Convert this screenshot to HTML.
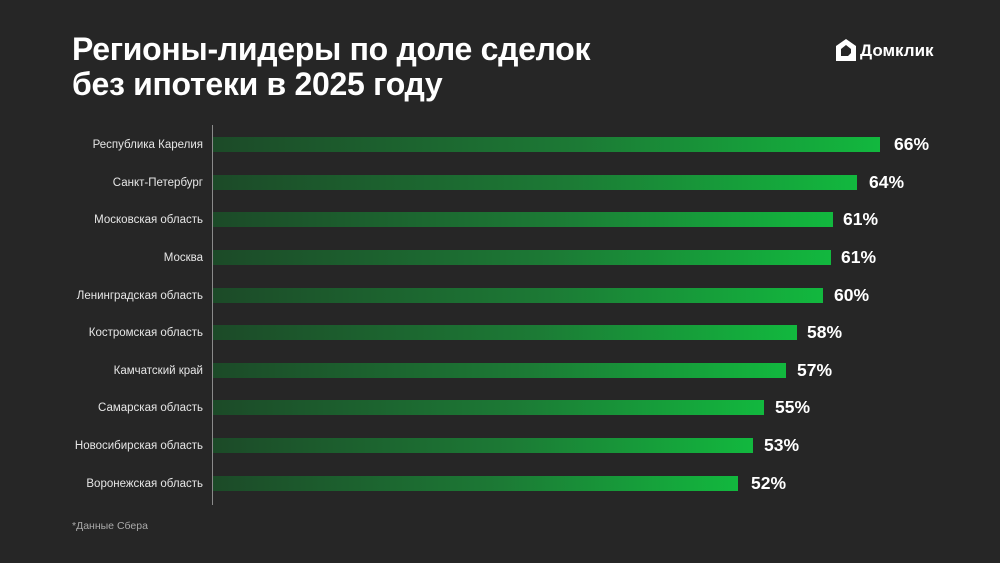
<!DOCTYPE html>
<html><head><meta charset="utf-8"><style>
html,body{margin:0;padding:0}
body{width:1000px;height:563px;background:#262626;position:relative;overflow:hidden;font-family:"Liberation Sans",sans-serif;color:#fff}
.t{position:absolute;left:72px;top:32px;font-size:32px;font-weight:bold;line-height:35px;letter-spacing:-0.3px}
.logo{position:absolute;left:835px;top:38px;font-size:17px;font-weight:bold}
.axis{position:absolute;left:212px;top:125px;width:1px;height:380px;background:#8a8a8a}
.lab{position:absolute;right:797px;font-size:11.5px;color:#e6e6e6;white-space:nowrap;margin-top:2px}
.bar{position:absolute;left:213px;height:15px;background:linear-gradient(90deg,#1c4a28 0%,#1c7a35 55%,#12b83e 100%)}
.v{position:absolute;font-size:17.5px;font-weight:bold;margin-top:-1px}
.foot{position:absolute;left:72px;top:520px;font-size:10.5px;color:#aaa}
</style></head><body>
<div class="t">Регионы-лидеры по доле сделок<br>без ипотеки в 2025 году</div>
<div class="logo"><svg width="22" height="24" viewBox="0 0 22 24" style="vertical-align:-6px;margin-right:3px"><path d="M11 1 L21 8 V23 H1 V8 Z M6 11 V18 H13 L16 15 V11 L11 7 Z" fill="#fff" fill-rule="evenodd"/></svg>Домклик</div>
<div class="axis"></div>
<div class="lab" style="top:137px">Республика Карелия</div><div class="bar" style="top:137px;width:667px"></div><div class="v" style="left:894px;top:135px">66%</div>
<div class="lab" style="top:175px">Санкт-Петербург</div><div class="bar" style="top:175px;width:644px"></div><div class="v" style="left:869px;top:173px">64%</div>
<div class="lab" style="top:212px">Московская область</div><div class="bar" style="top:212px;width:620px"></div><div class="v" style="left:843px;top:210px">61%</div>
<div class="lab" style="top:250px">Москва</div><div class="bar" style="top:250px;width:618px"></div><div class="v" style="left:841px;top:248px">61%</div>
<div class="lab" style="top:288px">Ленинградская область</div><div class="bar" style="top:288px;width:610px"></div><div class="v" style="left:834px;top:286px">60%</div>
<div class="lab" style="top:325px">Костромская область</div><div class="bar" style="top:325px;width:584px"></div><div class="v" style="left:807px;top:323px">58%</div>
<div class="lab" style="top:363px">Камчатский край</div><div class="bar" style="top:363px;width:573px"></div><div class="v" style="left:797px;top:361px">57%</div>
<div class="lab" style="top:400px">Самарская область</div><div class="bar" style="top:400px;width:551px"></div><div class="v" style="left:775px;top:398px">55%</div>
<div class="lab" style="top:438px">Новосибирская область</div><div class="bar" style="top:438px;width:540px"></div><div class="v" style="left:764px;top:436px">53%</div>
<div class="lab" style="top:476px">Воронежская область</div><div class="bar" style="top:476px;width:525px"></div><div class="v" style="left:751px;top:474px">52%</div>
<div class="foot">*Данные Сбера</div>
</body></html>
